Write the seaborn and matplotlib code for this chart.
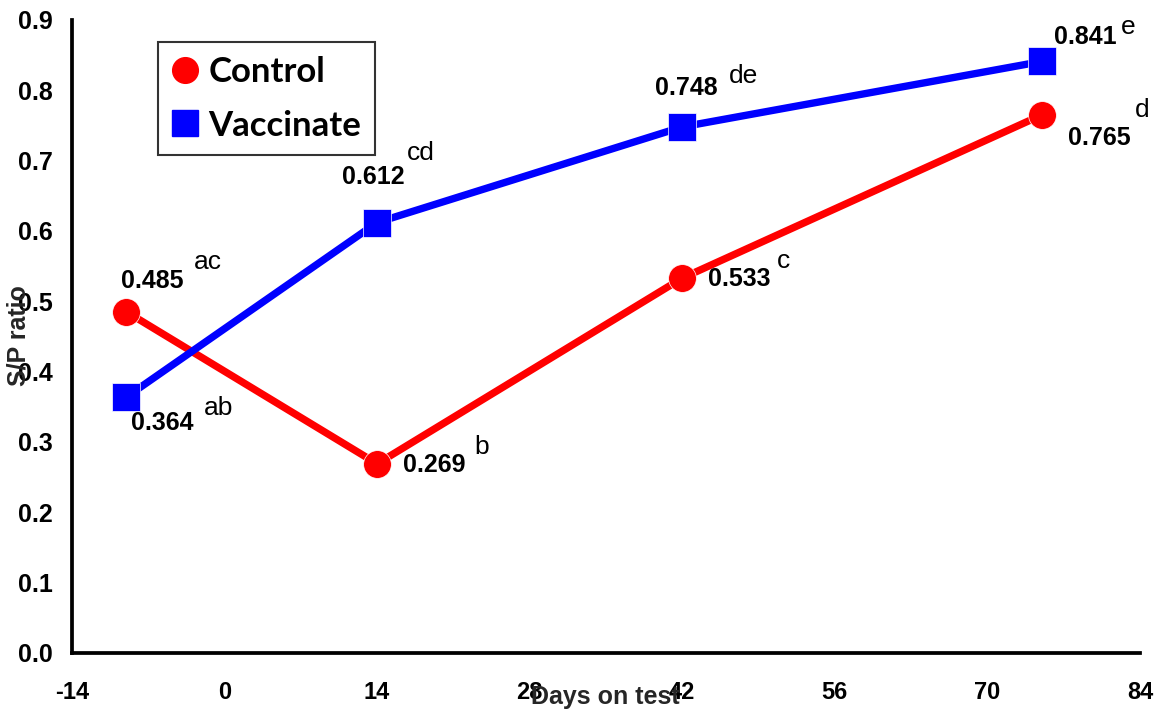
import matplotlib
matplotlib.use("Agg")
import matplotlib.pyplot as plt
from matplotlib.lines import Line2D
import seaborn as sns
import pandas as pd

# Serology results: S/P ratio by day on test
days = [-9, 14, 42, 75]
control_sp = [0.485, 0.269, 0.533, 0.765]
vaccinate_sp = [0.364, 0.612, 0.748, 0.841]
control_letters = ["ac", "b", "c", "d"]
vaccinate_letters = ["ab", "cd", "de", "e"]
x_ticks = [-14, 0, 14, 28, 42, 56, 70, 84]
y_ticks = [0.0, 0.1, 0.2, 0.3, 0.4, 0.5, 0.6, 0.7, 0.8, 0.9]
groups = ["Control", "Vaccinate"]
colors = {"Control": "#ff0000", "Vaccinate": "#0000ff"}
markers = {"Control": "o", "Vaccinate": "s"}

df = pd.DataFrame({
    "day": days * 2,
    "sp": control_sp + vaccinate_sp,
    "group": ["Control"] * len(days) + ["Vaccinate"] * len(days),
})

sns.set_theme(style="white")
plt.rcParams["font.family"] = ["Liberation Sans", "DejaVu Sans"]

fig = plt.figure(figsize=(11.57, 7.13), dpi=100)
ax = fig.add_axes([0.0622, 0.0842, 0.9231, 0.8878])

sns.lineplot(
    data=df, x="day", y="sp", hue="group", style="group",
    hue_order=groups, style_order=groups,
    palette=colors, markers=markers, dashes=False,
    linewidth=5.3, markersize=20, markeredgewidth=0.5,
    legend=False, ax=ax,
)

ax.set_xlim(-14, 84)
ax.set_ylim(0, 0.9)
ax.set_xticks(x_ticks)
ax.set_yticks(y_ticks)
ax.set_xticklabels([str(t) for t in x_ticks])
ax.set_yticklabels([f"{t:.1f}" for t in y_ticks])

for side in ("top", "right"):
    ax.spines[side].set_visible(False)
for side in ("left", "bottom"):
    ax.spines[side].set_linewidth(2.7)
    ax.spines[side].set_color("black")

ax.tick_params(axis="both", direction="out", length=6, width=2.7, color="black",
               labelcolor="black")
ax.tick_params(axis="x", pad=14, labelsize=17)
ax.tick_params(axis="y", pad=8, labelsize=18)
for lbl in ax.get_xticklabels() + ax.get_yticklabels():
    lbl.set_fontweight("bold")

ax.set_xlabel("Days on test", fontsize=18, fontweight="bold", va="center")
ax.set_ylabel("S/P ratio", fontsize=18, fontweight="bold", va="center")
ax.xaxis.set_label_coords(0.499, -0.0695)
ax.yaxis.set_label_coords(-0.050, 0.501)

# value labels and significance letters (offsets in pixels)
ctrl_val_off = [(26, 31), (57, -1), (57, -1), (57, -23)]
ctrl_let_off = [(81, 50), (105, 17), (101, 17), (100, 5)]
vacc_val_off = [(36, -26), (-4, 46), (4, 39), (43, 24)]
vacc_let_off = [(92, -11), (44, 70), (61, 51), (86, 34)]

def annotate_series(xs, ys, letters, val_off, let_off):
    for x, y, let, vo, lo in zip(xs, ys, letters, val_off, let_off):
        ax.annotate(f"{y:.3f}", (x, y), xytext=vo, textcoords="offset pixels",
                    ha="center", va="center", fontsize=18, fontweight="bold",
                    color="black")
        ax.annotate(let, (x, y), xytext=lo, textcoords="offset pixels",
                    ha="center", va="center", fontsize=19, color="black")

annotate_series(days, control_sp, control_letters, ctrl_val_off, ctrl_let_off)
annotate_series(days, vaccinate_sp, vaccinate_letters, vacc_val_off, vacc_let_off)

handles = [
    Line2D([], [], linestyle="none", marker=markers[g], color=colors[g],
           markersize=18.5, label=g)
    for g in groups
]
leg = ax.legend(handles=handles, loc="upper left", bbox_to_anchor=(0.0805, 0.965),
                prop={"family": "Lato", "size": 25, "weight": "bold"},
                frameon=True, fancybox=False,
                handletextpad=0.3, handlelength=0.75, borderpad=0.4,
                labelspacing=0.62, borderaxespad=0)
leg.get_frame().set_edgecolor("black")
leg.get_frame().set_linewidth(1.5)
for t in leg.get_texts():
    t.set_color("black")

fig.savefig("out.png", dpi=100)
